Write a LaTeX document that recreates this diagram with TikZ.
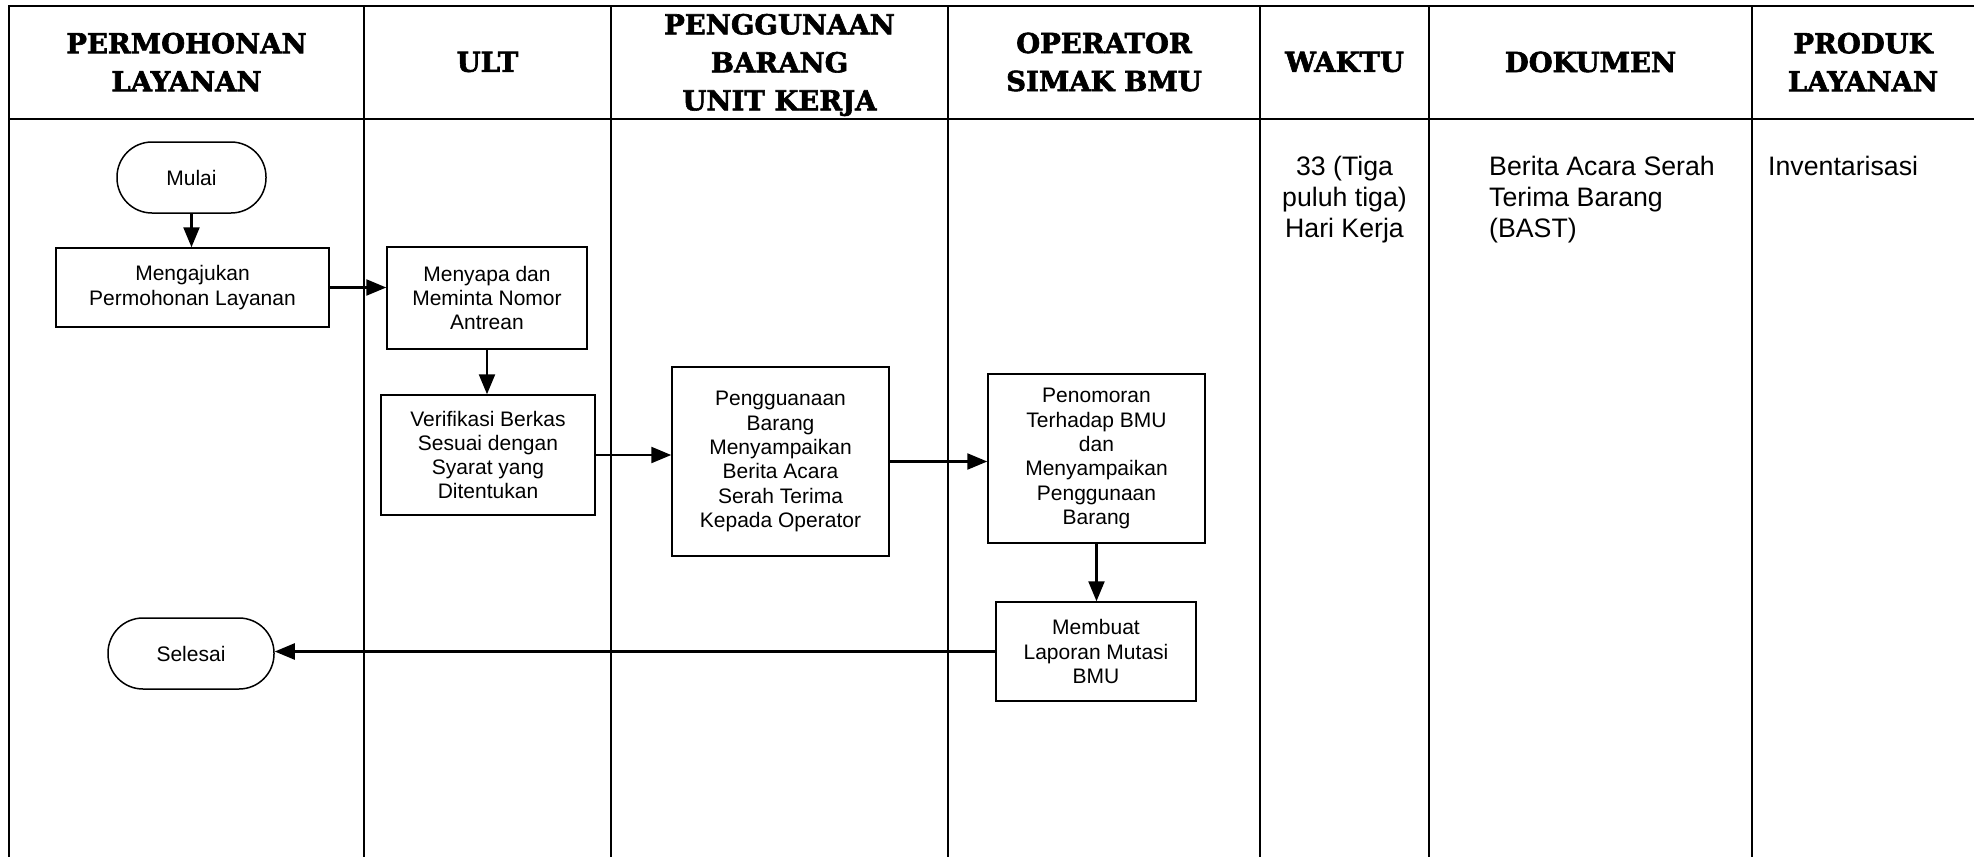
\documentclass[tikz,border=0pt]{standalone}
\usepackage{fontspec}
\setmainfont{Liberation Sans}
\newfontfamily\headfont{DejaVu Serif}[BoldFeatures={FakeBold=2.2}]
\usetikzlibrary{arrows.meta,positioning}
\tikzset{flow/.style={-{Triangle[length=20pt,width=16pt]},line width=2.4pt},
         lane/.style={line width=2pt},
         procbox/.style={draw,line width=1.5pt,inner sep=0pt,align=center,
                         font=\fontsize{21pt}{24.3pt}\selectfont},
         termbox/.style={procbox,rounded corners=35pt},
         headtxt/.style={align=center,font=\headfont\bfseries\fontsize{27.5pt}{38pt}\selectfont},
         coltxt/.style={inner sep=0pt,font=\fontsize{26.7pt}{31pt}\selectfont}}

\begin{document}
\begin{tikzpicture}[x=1pt,y=-1pt]
\useasboundingbox (0,0) rectangle (1974,857);
% frame and lanes
\draw[lane] (1974,6) -- (9,6) -- (9,857);
\draw[lane] (9,119) -- (1974,119);
\foreach \xc in {364,611,948,1260,1429,1752}
  \draw[lane] (\xc,6) -- (\xc,857);
% column heads
\node[headtxt] (hPem) at (186.5,62) {PERMOHONAN\\LAYANAN};
\node[headtxt] (hUlt) at (487.5,62) {ULT};
\node[headtxt] (hPgb) at (779.5,65) {PENGGUNAAN\\BARANG\\UNIT KERJA};
\node[headtxt] (hOpr) at (1104,62) {OPERATOR\\SIMAK BMU};
\node[headtxt] (hWkt) at (1344.5,62) {WAKTU};
\node[headtxt] (hDok) at (1590.5,62) {DOKUMEN};
\node[headtxt] (hPrd) at (1863,62) {PRODUK\\LAYANAN};
% flow steps
\node[termbox,minimum width=149pt,minimum height=71pt] (mulai) at (191.5,177.5) {Mulai};
\node[procbox,minimum width=273pt,minimum height=79pt] (ajukan) at (192.5,287.5)
  {Mengajukan\\Permohonan Layanan};
\node[procbox,minimum width=200pt,minimum height=102pt] (sapa) at (487,298)
  {Menyapa dan\\Meminta Nomor\\Antrean};
\node[procbox,minimum width=214pt,minimum height=120pt] (verif) at (488,455)
  {Verifikasi Berkas\\Sesuai dengan\\Syarat yang\\Ditentukan};
\node[procbox,minimum width=217pt,minimum height=189pt] (guna) at (780.5,461.5)
  {Pengguanaan\\Barang\\Menyampaikan\\Berita Acara\\Serah Terima\\Kepada Operator};
\node[procbox,minimum width=217pt,minimum height=169pt] (nomor) at (1096.5,458.5)
  {Penomoran\\Terhadap BMU\\dan\\Menyampaikan\\Penggunaan\\Barang};
\node[procbox,minimum width=200pt,minimum height=99pt] (lapor) at (1096,651.5)
  {Membuat\\Laporan Mutasi\\BMU};
\node[termbox,minimum width=166pt,minimum height=71pt] (selesai) at (191,653.5) {Selesai};
% connectors
\draw[flow] (mulai.south) -- (mulai.south |- ajukan.north);
\draw[flow] (ajukan.east) -- (ajukan.east -| sapa.west);
\draw[flow] (sapa.south) -- (sapa.south |- verif.north);
\draw[flow] (verif.east) -- (verif.east -| guna.west);
\draw[flow] (guna.east) -- (guna.east -| nomor.west);
\draw[flow] (nomor.south) -- (nomor.south |- lapor.north);
\draw[flow] (lapor.west) -- (lapor.west -| selesai.east);
% time, document and product
\node[coltxt,align=center,anchor=north] (waktu) at (1344.5,156)
  {33 (Tiga\\puluh tiga)\\Hari Kerja};
\node[coltxt,align=left,anchor=north west] (dokumen) at (1489,156)
  {Berita Acara Serah\\Terima Barang\\(BAST)};
\node[coltxt,anchor=north west] (produk) at (1768,156) {Inventarisasi};
\end{tikzpicture}
\end{document}
